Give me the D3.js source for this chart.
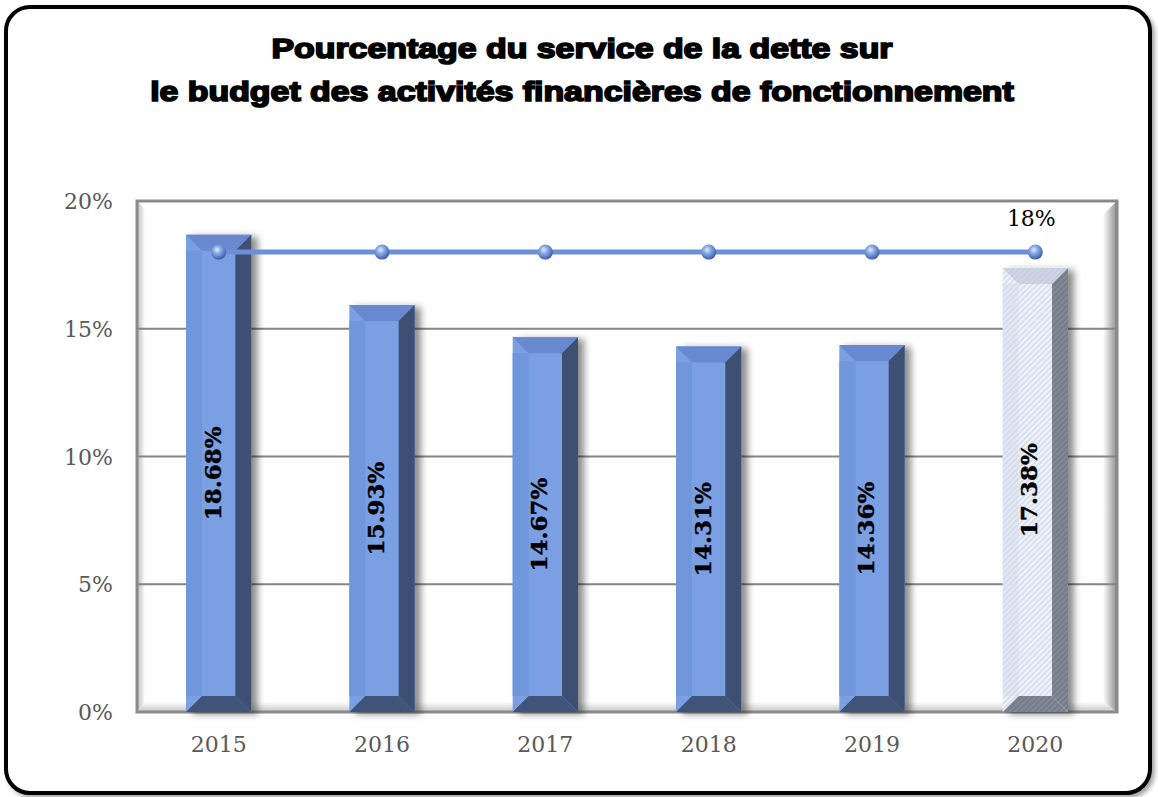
<!DOCTYPE html>
<meta charset="utf-8">
<style>
body { margin: 0; background: #fff; }
.title { font: bold 28px "Liberation Sans", Arial, sans-serif; text-anchor: middle; fill: #000; stroke: #000; stroke-width: 1.7px; }
.tick text { font: 22px "DejaVu Serif", serif; fill: #595959; }
.val { font: bold 23px "DejaVu Serif", serif; fill: #000; text-anchor: middle; stroke: #000; stroke-width: 0.4px; }
.lbl { font: 22px "DejaVu Serif", serif; fill: #000; text-anchor: middle; }
</style>
<svg width="1158" height="797"></svg>
<script src="https://d3js.org/d3.v7.min.js"></script>
<script>

var years = ["2015", "2016", "2017", "2018", "2019", "2020"];
var debtShare = [18.68, 15.93, 14.67, 14.31, 14.36, 17.38];
var target = [18, 18, 18, 18, 18, 18];
var yTicks = [0, 5, 10, 15, 20];
var titleLines = ["Pourcentage du service de la dette sur",
                  "le budget des activités financières de fonctionnement"];

var svg = d3.select("svg"),
    plotL = 137, plotR = 1117, plotT = 201, plotB = 712;

var defs = svg.append("defs");

// soft shadows
var sh = defs.append("filter").attr("id", "shadow")
    .attr("x", "-20%").attr("y", "-10%").attr("width", "160%").attr("height", "130%");
sh.append("feDropShadow").attr("dx", 6).attr("dy", 2).attr("stdDeviation", 3.5)
    .attr("flood-color", "#000").attr("flood-opacity", 0.45);

var fsh = defs.append("filter").attr("id", "frameShadow")
    .attr("x", "-5%").attr("y", "-5%").attr("width", "110%").attr("height", "110%");
fsh.append("feDropShadow").attr("dx", 3).attr("dy", 3).attr("stdDeviation", 2)
    .attr("flood-color", "#000").attr("flood-opacity", 0.35);

// hatch for the last bar
var hatch = defs.append("pattern").attr("id", "hatch")
    .attr("width", 4).attr("height", 4).attr("patternUnits", "userSpaceOnUse")
    .attr("patternTransform", "rotate(45)");
hatch.append("rect").attr("width", 4).attr("height", 4).attr("fill", "#d9e1ef");
hatch.append("rect").attr("width", 1.6).attr("height", 4).attr("fill", "#f4f7fc");

var hatchDark = defs.append("pattern").attr("id", "hatchDark")
    .attr("width", 4).attr("height", 4).attr("patternUnits", "userSpaceOnUse")
    .attr("patternTransform", "rotate(45)");
hatchDark.append("rect").attr("width", 4).attr("height", 4).attr("fill", "#767c8a");
hatchDark.append("rect").attr("width", 1.6).attr("height", 4).attr("fill", "#858b98");

// sphere markers
var ball = defs.append("radialGradient").attr("id", "ball")
    .attr("cx", "40%").attr("cy", "35%").attr("r", "65%");
ball.append("stop").attr("offset", "0%").attr("stop-color", "#e4eeff");
ball.append("stop").attr("offset", "35%").attr("stop-color", "#8fb0ec");
ball.append("stop").attr("offset", "100%").attr("stop-color", "#3d5fa8");

function lin(id, x1, y1, x2, y2, c1, c2) {
  var g = defs.append("linearGradient").attr("id", id)
      .attr("x1", x1).attr("y1", y1).attr("x2", x2).attr("y2", y2);
  g.append("stop").attr("offset", "0%").attr("stop-color", c1);
  g.append("stop").attr("offset", "100%").attr("stop-color", c2);
}
lin("wallL", "0", "0", "1", "0", "#b8b8b8", "#ffffff");
lin("wallR", "0", "0", "1", "0", "#ffffff", "#8c8c8c");
lin("wallB", "0", "0", "0", "1", "#ffffff", "#c4c4c4");

// outer frame
svg.append("rect")
    .attr("x", 6).attr("y", 7).attr("width", 1144).attr("height", 786)
    .attr("rx", 24).attr("fill", "#fff")
    .attr("stroke", "#000").attr("stroke-width", 4)
    .attr("filter", "url(#frameShadow)");

// title
svg.selectAll(".title").data(titleLines).enter().append("text")
    .attr("class", "title")
    .attr("transform", function(d, i) {
      return "translate(582," + (58 + i * 43) + ") scale(1.21,1)";
    })
    .text(function(d) { return d; });

var x = d3.scaleBand().domain(years).range([plotL, plotR])
    .paddingInner(0.6).paddingOuter(0.3);
var y = d3.scaleLinear().domain([0, 20]).range([plotB, plotT]);

// back wall
var wall = svg.append("g");
var bev = 14;
wall.append("rect").attr("x", plotL).attr("y", plotT)
    .attr("width", plotR - plotL).attr("height", plotB - plotT).attr("fill", "#fff");
wall.append("path").attr("fill", "url(#wallL)")
    .attr("d", "M" + plotL + "," + plotT + "L" + (plotL + 8) + "," + (plotT + 8) +
               "L" + (plotL + 8) + "," + (plotB - 10) + "L" + plotL + "," + plotB + "Z");
wall.append("path").attr("fill", "url(#wallR)")
    .attr("d", "M" + (plotR - bev) + "," + (plotT + bev) + "L" + plotR + "," + plotT +
               "L" + plotR + "," + plotB + "L" + (plotR - bev) + "," + (plotB - 10) + "Z");
wall.append("path").attr("fill", "url(#wallB)")
    .attr("d", "M" + (plotL + 8) + "," + (plotB - 10) + "L" + (plotR - bev) + "," + (plotB - 10) +
               "L" + plotR + "," + plotB + "L" + plotL + "," + plotB + "Z");

// gridlines
wall.selectAll(".grid").data(yTicks.filter(function(d) { return d > 0 && d < 20; }))
  .enter().append("line")
    .attr("x1", plotL).attr("x2", plotR)
    .attr("y1", function(d) { return y(d); }).attr("y2", function(d) { return y(d); })
    .attr("stroke", "#858585").attr("stroke-width", 2);

wall.append("path")
    .attr("d", "M" + plotL + "," + plotB + "V" + plotT + "H" + plotR + "V" + plotB + "Z")
    .attr("fill", "none").attr("stroke", "#8a8a8a").attr("stroke-width", 3);

// y axis
var yAxis = svg.append("g")
    .attr("transform", "translate(" + (plotL - 24) + ",0)")
    .call(d3.axisLeft(y).tickValues(yTicks).tickSize(0).tickPadding(0)
      .tickFormat(function(d) { return d + "%"; }));
yAxis.select(".domain").remove();
yAxis.selectAll("text").attr("dy", "0.35em");

// x axis
var xAxis = svg.append("g")
    .attr("transform", "translate(0," + (plotB + 23) + ")")
    .call(d3.axisBottom(x).tickSize(0).tickPadding(0));
xAxis.select(".domain").remove();
xAxis.selectAll("text").attr("dy", "0.75em");

// bars
var data = years.map(function(yr, i) {
  return { year: yr, value: debtShare[i], last: i === years.length - 1 };
});
var s = 16;
var bars = svg.selectAll(".bar").data(data).enter().append("g")
    .attr("class", "bar")
    .attr("filter", "url(#shadow)");

function col(d, a, b) { return d.last ? b : a; }

bars.each(function(d) {
  var g = d3.select(this),
      x0 = x(d.year), x1 = x0 + x.bandwidth(),
      yt = y(d.value), yb = y(0);
  g.append("rect").attr("x", x0).attr("y", yt)
      .attr("width", x1 - x0).attr("height", yb - yt)
      .attr("fill", col(d, "#7a9fe3", "url(#hatch)"));
  g.append("rect").attr("x", x0).attr("y", yt + s)
      .attr("width", s).attr("height", yb - yt - 2 * s)
      .attr("fill", col(d, "#7096dc", "#cfd8e8")).attr("opacity", d.last ? 0.35 : 1);
  g.append("path")
      .attr("d", "M" + x0 + "," + yt + "H" + x1 + "L" + (x1 - s) + "," + (yt + s) +
                 "H" + (x0 + s) + "Z")
      .attr("fill", col(d, "#6888d0", "#b9c2d6")).attr("opacity", d.last ? 0.6 : 1);
  g.append("path")
      .attr("d", "M" + x1 + "," + yt + "V" + yb + "L" + (x1 - s) + "," + (yb - s) +
                 "V" + (yt + s) + "Z")
      .attr("fill", col(d, "#3c4f72", "url(#hatchDark)"));
  g.append("path")
      .attr("d", "M" + x0 + "," + yb + "H" + x1 + "L" + (x1 - s) + "," + (yb - s) +
                 "H" + (x0 + s) + "Z")
      .attr("fill", col(d, "#3f5378", "url(#hatchDark)"));
});

// value labels
svg.selectAll(".val").data(data).enter().append("text")
    .attr("class", "val")
    .attr("transform", function(d) {
      var cx = x(d.year) + (x.bandwidth() - s) / 2 + 2,
          cy = (y(d.value) + y(0)) / 2;
      return "translate(" + cx + "," + cy + ") rotate(-90)";
    })
    .attr("dy", "0.35em")
    .text(function(d) { return d.value.toFixed(2) + "%"; });

// target line
var pts = years.map(function(yr, i) { return { year: yr, value: target[i] }; });
var cxf = function(d) { return x(d.year) + x.bandwidth() / 2; };
svg.append("path").datum(pts)
    .attr("d", d3.line().x(cxf).y(function(d) { return y(d.value); }))
    .attr("fill", "none").attr("stroke", "#6c8fd7").attr("stroke-width", 5);
svg.selectAll(".dot").data(pts).enter().append("circle")
    .attr("cx", cxf).attr("cy", function(d) { return y(d.value); })
    .attr("r", 7.5).attr("fill", "url(#ball)");

var lastPt = pts[pts.length - 1];
svg.append("text").attr("class", "lbl")
    .attr("x", cxf(lastPt) - 4).attr("y", y(lastPt.value) - 26)
    .text(lastPt.value + "%");

</script>
